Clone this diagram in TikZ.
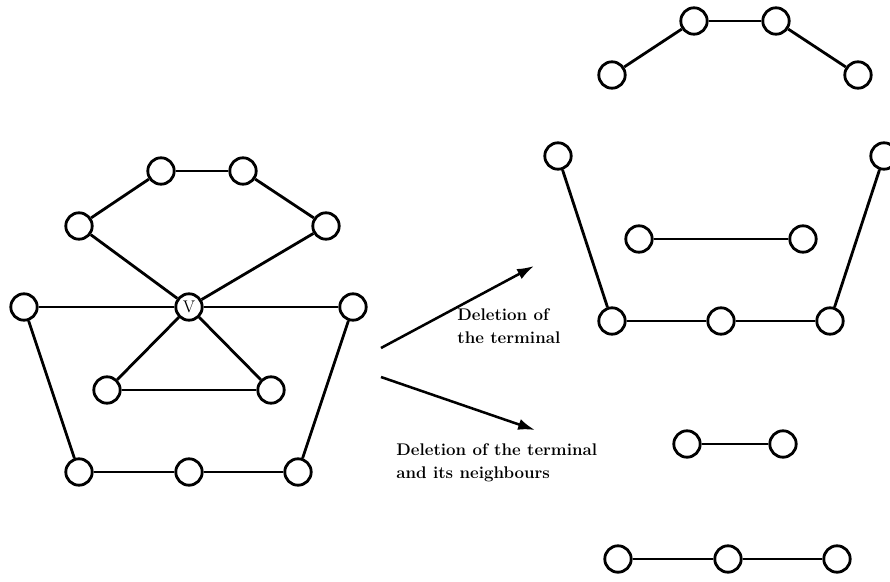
\documentclass[tikz,border=0pt]{standalone}
\usepackage{amsmath,amssymb}
\usepackage{tikz}
\usetikzlibrary{arrows, arrows.meta, positioning}

\begin{document}
\begin{tikzpicture}[x=0.025cm, y=-0.025cm, line width=2pt,
	vert/.style={circle, draw, fill=white, inner sep=0pt, minimum size=0.66cm},
	lbl/.style={font=\fontsize{12}{16.5}\selectfont\bfseries, align=left, inner sep=0pt, anchor=west}]

\useasboundingbox (0,0) rectangle (890,581);

% graph before deletion
\node[vert]			(a1) at (161,171)	{};
\node[vert]			(a2) at (243,171)	{};
\node[vert]			(a3) at (79,226)	{};
\node[vert]			(a4) at (326,226)	{};
\node[vert]			(v) at (189,307)	{\large V};
\node[vert]			(a5) at (24,307)	{};
\node[vert]			(a6) at (353,307)	{};
\node[vert]			(a7) at (107,390)	{};
\node[vert]			(a8) at (271,390)	{};
\node[vert]			(a9) at (79,472)	{};
\node[vert]			(a10) at (189,472)	{};
\node[vert]			(a11) at (298,472)	{};

\path	(a1)	edge	(a2);
\path	(a1)	edge	(a3);
\path	(a2)	edge	(a4);
\path	(a3)	edge	(v);
\path	(a4)	edge	(v);
\path	(a5)	edge	(v);
\path	(a6)	edge	(v);
\path	(a7)	edge	(v);
\path	(a8)	edge	(v);
\path	(a7)	edge	(a8);
\path	(a5)	edge	(a9);
\path	(a6)	edge	(a11);
\path	(a9)	edge	(a10);
\path	(a10)	edge	(a11);

% graph after deletion of the terminal
\node[vert]			(b1) at (612,75)	{};
\node[vert]			(b2) at (694,21)	{};
\node[vert]			(b3) at (776,21)	{};
\node[vert]			(b4) at (858,75)	{};
\node[vert]			(b5) at (558,156)	{};
\node[vert]			(b6) at (884,156)	{};
\node[vert]			(b7) at (639,239)	{};
\node[vert]			(b8) at (803,239)	{};
\node[vert]			(b9) at (612,321)	{};
\node[vert]			(b10) at (721,321)	{};
\node[vert]			(b11) at (830,321)	{};

\path	(b1)	edge	(b2);
\path	(b2)	edge	(b3);
\path	(b3)	edge	(b4);
\path	(b5)	edge	(b9);
\path	(b6)	edge	(b11);
\path	(b7)	edge	(b8);
\path	(b9)	edge	(b10);
\path	(b10)	edge	(b11);

% graph after deletion of the terminal and its neighbours
\node[vert]			(c1) at (687,444)	{};
\node[vert]			(c2) at (783,444)	{};
\node[vert]			(c3) at (618,559)	{};
\node[vert]			(c4) at (728,559)	{};
\node[vert]			(c5) at (837,559)	{};

\path	(c1)	edge	(c2);
\path	(c3)	edge	(c4);
\path	(c4)	edge	(c5);

% arrows
\coordinate (s1) at (381,348);
\coordinate (e1) at (534,266);
\coordinate (s2) at (381,377);
\coordinate (e2) at (535,430);
\draw[-{Latex[length=12pt, width=8pt]}, line width=1.8pt] (s1) -- (e1);
\draw[-{Latex[length=12pt, width=8pt]}, line width=1.8pt] (s2) -- (e2);

\node[lbl]	(t1) at (456,326)	{Deletion of\\the terminal};
\node[lbl]	(t2) at (395,463)	{Deletion of the terminal\\and its neighbours};

\end{tikzpicture}
\end{document}
